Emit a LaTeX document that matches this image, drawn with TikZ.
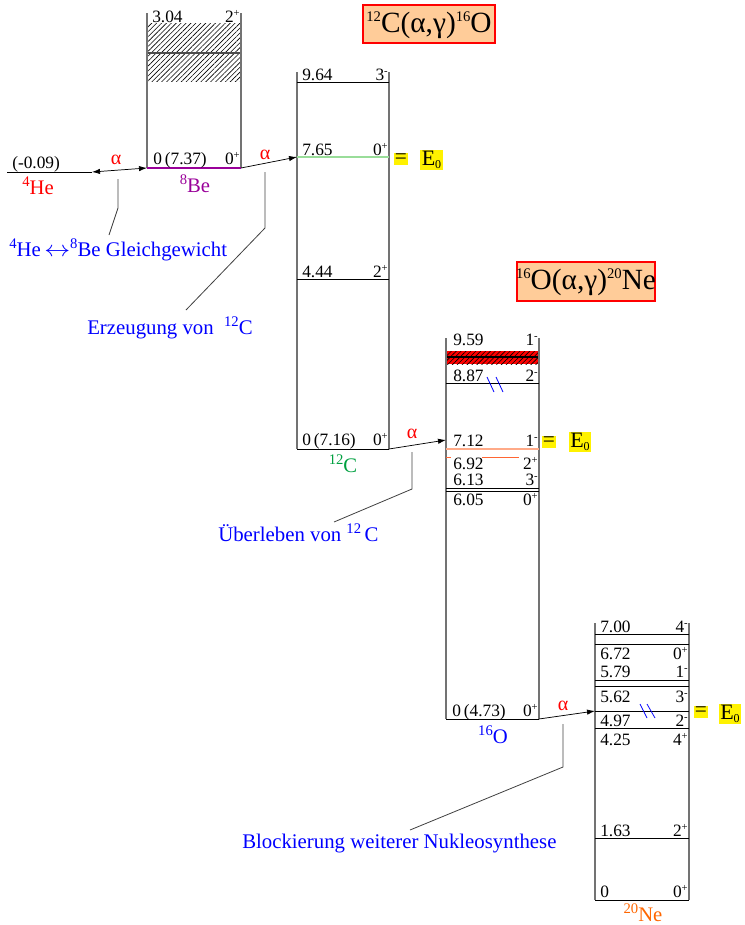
\documentclass[tikz,border=0pt]{standalone}
\usepackage{fontspec}
\setmainfont{Liberation Serif}
\usetikzlibrary{patterns.meta,arrows.meta}
\definecolor{peach}{HTML}{FFCC99}
\definecolor{bepurple}{HTML}{990099}
\definecolor{cgreen}{HTML}{00A040}
\definecolor{neorange}{HTML}{FF6600}
\definecolor{lgreen}{HTML}{99DD99}
\definecolor{salmonc}{HTML}{FFAA88}
\definecolor{dashorange}{HTML}{FF6633}
\newcommand\sups[2][8]{\raisebox{0.75ex}{\fontsize{#1}{#1}\selectfont #2}}
\newcommand\subs[2][9]{\raisebox{-0.3ex}{\fontsize{#1}{#1}\selectfont #2}}
\begin{document}
\begin{tikzpicture}[x=0.75pt,y=-0.75pt,
  vert/.style={draw=black!55,line width=1.1pt},
  lvl/.style={draw=black,line width=0.55pt},
  num/.style={anchor=base west,inner sep=0pt,font=\fontsize{13}{13}\selectfont},
  spin/.style={anchor=base east,inner sep=0pt,font=\fontsize{13}{13}\selectfont},
  iso/.style={anchor=base,inner sep=0pt,font=\fontsize{15.5}{16}\selectfont},
  alph/.style={inner sep=0pt,text=red,font=\fontsize{15}{16}\selectfont},
  rxn/.style={-{Latex[length=6pt,width=4pt]},line width=0.55pt},
  callline/.style={draw=black!75,line width=0.6pt},
  calltext/.style={anchor=base west,inner sep=0pt,text=blue,font=\fontsize{15.6}{17}\selectfont},
  eqsign/.style={fill=yellow,inner sep=0.6pt,font=\fontsize{16}{16}\selectfont},
  ezero/.style={fill=yellow,inner sep=0pt,minimum width=17pt,minimum height=15.5pt,font=\fontsize{16.5}{16}\selectfont},
  titlebox/.style={draw=red,fill=peach,line width=0.8pt},
  hatchb/.style={pattern={Lines[angle=45,distance=2.6pt,line width=0.45pt]}},
  breakmark/.style={draw=blue,line width=0.6pt},
]
\useasboundingbox (0,0) rectangle (745,925);

% ---------- titles ----------
\draw[titlebox] (363,5) rectangle (495,43);
\node[inner sep=0pt,font=\fontsize{22}{24}\selectfont] (t1) at (429,25) {\sups[11]{12}C(α,γ)\sups[11]{16}O};
\draw[titlebox] (517,262) rectangle (655,301);
\node[inner sep=0pt,font=\fontsize{22}{24}\selectfont] (t2) at (586,282) {\sups[11]{16}O(α,γ)\sups[11]{20}Ne};

% ---------- 4He ----------
\coordinate (he-l) at (7,172);
\coordinate (he-r) at (92,172);
\draw[lvl] (he-l) -- (he-r);
\node[num] (he-n) at (12,168) {(-0.09)};
\node[iso,text=red] (he-iso) at (38,194) {\sups[11]{4}He};

% ---------- 8Be ----------
\fill[hatchb] (147,23) rectangle (241,81);
\draw[draw=black!70,line width=0.9pt] (147,53) -- (241,53);
\coordinate (be-tl) at (147,13);
\coordinate (be-bl) at (147,168);
\coordinate (be-tr) at (241,13);
\coordinate (be-br) at (241,168);
\draw[vert] (be-tl) -- (be-bl);
\draw[vert] (be-tr) -- (be-br);
\draw[draw=bepurple,line width=0.9pt] (be-bl) -- (be-br);
\node[num] (be-n1) at (152,22) {3.04};
\node[spin] (be-s1) at (240,22) {2\sups{+}};
\node[num] (be-n0) at (153,164) {0\,(7.37)};
\node[spin] (be-s0) at (240,164) {0\sups{+}};
\node[iso,text=bepurple] (be-iso) at (195,192) {\sups[11]{8}Be};

\draw[rxn,{Latex[length=6pt,width=4pt]}-{Latex[length=6pt,width=4pt]}] (he-r) -- (be-bl);
\node[alph] (a1) at (116,160) {α};

% ---------- 12C ----------
\coordinate (c-tl) at (297,72);
\coordinate (c-bl) at (297,449);
\coordinate (c-tr) at (389,72);
\coordinate (c-br) at (389,449);
\coordinate (c-e0) at (297,157);
\draw[vert] (c-tl) -- (c-bl);
\draw[vert] (c-tr) -- (c-br);
\draw[lvl] (297,82) -- (389,82);
\draw[draw=lgreen,line width=1.4pt] (c-e0) -- (389,157);
\draw[lvl] (297,279) -- (389,279);
\draw[lvl] (c-bl) -- (c-br);
\node[num] (c-n1) at (302,80) {9.64};
\node[spin] (c-s1) at (388,80) {3\sups{-}};
\node[num] (c-n2) at (302,155) {7.65};
\node[spin] (c-s2) at (388,155) {0\sups{+}};
\node[num] (c-n3) at (302,277) {4.44};
\node[spin] (c-s3) at (388,277) {2\sups{+}};
\node[num] (c-n0) at (302,445) {0\,(7.16)};
\node[spin] (c-s0) at (388,445) {0\sups{+}};
\node[iso,text=cgreen] (c-iso) at (343,472) {\sups[11]{12}C};
\node[eqsign] (c-eq) at (401,159) {=};
\node[ezero] (c-ez) at (431.5,160) {E\subs{0}};

\draw[rxn] (be-br) -- (c-e0);
\node[alph] (a2) at (265,155) {α};

% ---------- 16O ----------
\coordinate (o-tl) at (446,338);
\coordinate (o-bl) at (446,719);
\coordinate (o-tr) at (539,338);
\coordinate (o-br) at (539,719);
\coordinate (o-e0) at (446,440);
\fill[red] (446,351) rectangle (539,364);
\fill[hatchb] (446,351) rectangle (539,364);
\draw[draw=black,line width=0.8pt] (446,357) -- (539,357);
\draw[vert] (o-tl) -- (o-bl);
\draw[vert] (o-tr) -- (o-br);
\draw[lvl] (446,383) -- (539,383);
\draw[draw=salmonc,line width=1.5pt] (446,449) -- (539,449);
\draw[draw=dashorange,line width=0.6pt] (446,457) -- (451,457);
\draw[draw=dashorange,line width=0.6pt] (482,457) -- (519,457);
\draw[lvl] (446,488) -- (539,488);
\draw[lvl] (446,491) -- (539,491);
\draw[lvl] (o-bl) -- (o-br);
\node[num] (o-n1) at (453,345) {9.59};
\node[spin] (o-s1) at (538,345) {1\sups{-}};
\node[num] (o-n2) at (453,381) {8.87};
\node[spin] (o-s2) at (538,381) {2\sups{-}};
\draw[breakmark] (487,377) -- (494,392);
\draw[breakmark] (496,377) -- (503,392);
\node[num] (o-n3) at (453,446) {7.12};
\node[spin] (o-s3) at (538,446) {1\sups{-}};
\node[num] (o-n4) at (453,469) {6.92};
\node[spin] (o-s4) at (538,469) {2\sups{+}};
\node[num] (o-n5) at (453,485) {6.13};
\node[spin] (o-s5) at (538,485) {3\sups{-}};
\node[num] (o-n6) at (453,505) {6.05};
\node[spin] (o-s6) at (538,505) {0\sups{+}};
\node[num] (o-n0) at (452,716) {0\,(4.73)};
\node[spin] (o-s0) at (538,716) {0\sups{+}};
\node[iso,text=blue] (o-iso) at (493,743) {\sups[11]{16}O};
\node[eqsign] (o-eq) at (549,442) {=};
\node[ezero] (o-ez) at (580,442) {E\subs{0}};

\draw[rxn] (c-br) -- (o-e0);
\node[alph] (a3) at (412,434) {α};

% ---------- 20Ne ----------
\coordinate (n-tl) at (595,623);
\coordinate (n-bl) at (595,900);
\coordinate (n-tr) at (689,623);
\coordinate (n-br) at (689,900);
\coordinate (n-e0) at (595,711);
\draw[vert] (n-tl) -- (n-bl);
\draw[vert] (n-tr) -- (n-br);
\foreach \yy in {634,644,680,686,711,728,838}
  \draw[lvl] (595,\yy) -- (689,\yy);
\draw[lvl] (n-bl) -- (n-br);
\node[num] (n-n1) at (600,632) {7.00};
\node[spin] (n-s1) at (688,632) {4\sups{-}};
\node[num] (n-n2) at (600,659) {6.72};
\node[spin] (n-s2) at (688,659) {0\sups{+}};
\node[num] (n-n3) at (600,677) {5.79};
\node[spin] (n-s3) at (688,677) {1\sups{-}};
\node[num] (n-n4) at (600,702) {5.62};
\node[spin] (n-s4) at (688,702) {3\sups{-}};
\node[num] (n-n5) at (600,726) {4.97};
\node[spin] (n-s5) at (688,726) {2\sups{-}};
\node[num] (n-n6) at (600,745) {4.25};
\node[spin] (n-s6) at (688,745) {4\sups{+}};
\node[num] (n-n7) at (600,836) {1.63};
\node[spin] (n-s7) at (688,836) {2\sups{+}};
\node[num] (n-n0) at (600,897) {0};
\node[spin] (n-s0) at (688,897) {0\sups{+}};
\draw[breakmark] (640,704) -- (647,718);
\draw[breakmark] (647,704) -- (655,718);
\node[iso,text=neorange] (n-iso) at (643,921) {\sups[11]{20}Ne};
\node[eqsign] (n-eq) at (701,712) {=};
\node[ezero] (n-ez) at (730,714) {E\subs{0}};

\draw[rxn] (o-br) -- (n-e0);
\node[alph] (a4) at (563,706) {α};

% ---------- callouts ----------
\coordinate (k1a) at (118,179);
\coordinate (k1b) at (118,208);
\coordinate (k1c) at (109,235);
\draw[callline] (k1a) -- (k1b) -- (k1c);
\node[calltext] (k1t) at (9,256) {\sups[11]{4}He\,\scalebox{1.35}[1.15]{$\leftrightarrow$}\sups[11]{8}Be Gleichgewicht};

\coordinate (k2a) at (265,172);
\coordinate (k2b) at (265,228);
\coordinate (k2c) at (186,310);
\draw[callline] (k2a) -- (k2b) -- (k2c);
\node[calltext] (k2t) at (87,334) {Erzeugung von~~\sups[11]{12}C};

\coordinate (k3a) at (412,452);
\coordinate (k3b) at (412,489);
\coordinate (k3c) at (334,522);
\draw[callline] (k3a) -- (k3b) -- (k3c);
\node[calltext] (k3t) at (218,541) {Überleben von \sups[11]{12}\,C};

\coordinate (k4a) at (563,724);
\coordinate (k4b) at (563,767);
\coordinate (k4c) at (410,830);
\draw[callline] (k4a) -- (k4b) -- (k4c);
\node[calltext] (k4t) at (242,848) {Blockierung weiterer Nukleosynthese};
\end{tikzpicture}
\end{document}
